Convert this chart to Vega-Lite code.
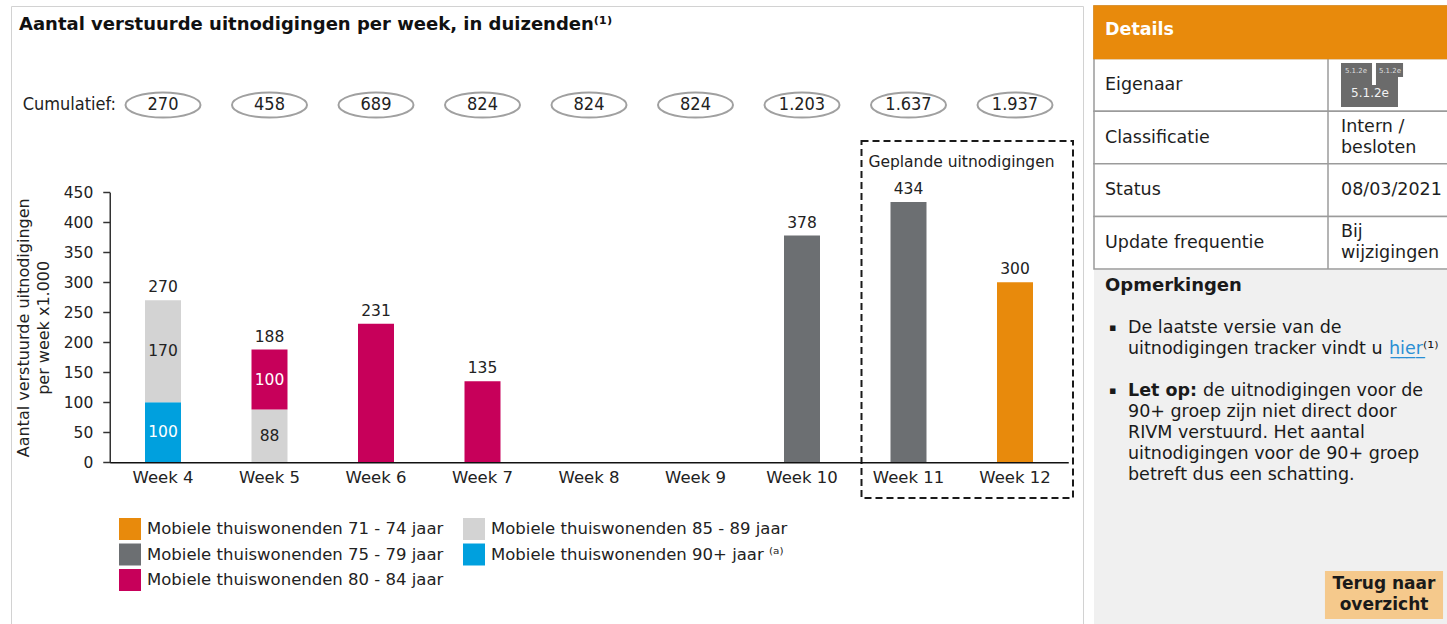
{
  "$schema": "https://vega.github.io/schema/vega-lite/v6.json",
  "background": "white",
  "padding": {"left": 10, "top": 5, "right": 0, "bottom": 0},
  "spacing": 9,
  "config": {
    "font": "DejaVu Sans",
    "view": {"stroke": null},
    "locale": {"number": {"decimal": ",", "thousands": ".", "grouping": [3], "currency": ["€", ""]}}
  },
  "datasets": {
    "weken": [
      {"week": "Week 4", "groep": "Mobiele thuiswonenden 90+ jaar ⁽ᵃ⁾", "aantal": 100},
      {"week": "Week 4", "groep": "Mobiele thuiswonenden 85 - 89 jaar", "aantal": 170},
      {"week": "Week 5", "groep": "Mobiele thuiswonenden 85 - 89 jaar", "aantal": 88},
      {"week": "Week 5", "groep": "Mobiele thuiswonenden 80 - 84 jaar", "aantal": 100},
      {"week": "Week 6", "groep": "Mobiele thuiswonenden 80 - 84 jaar", "aantal": 231},
      {"week": "Week 7", "groep": "Mobiele thuiswonenden 80 - 84 jaar", "aantal": 135},
      {"week": "Week 10", "groep": "Mobiele thuiswonenden 75 - 79 jaar", "aantal": 378},
      {"week": "Week 11", "groep": "Mobiele thuiswonenden 75 - 79 jaar", "aantal": 434},
      {"week": "Week 12", "groep": "Mobiele thuiswonenden 71 - 74 jaar", "aantal": 300}
    ],
    "cumulatief": [
      {"week": "Week 4", "totaal": 270},
      {"week": "Week 5", "totaal": 458},
      {"week": "Week 6", "totaal": 689},
      {"week": "Week 7", "totaal": 824},
      {"week": "Week 8", "totaal": 824},
      {"week": "Week 9", "totaal": 824},
      {"week": "Week 10", "totaal": 1203},
      {"week": "Week 11", "totaal": 1637},
      {"week": "Week 12", "totaal": 1937}
    ],
    "cumlabel": [{"week": "Week 4", "tekst": "Cumulatief:"}],
    "gepland": [{"week": "Week 11", "tot": "Week 12", "tekst": "Geplande uitnodigingen"}],
    "details": [
      {"rij": "Details", "kolom": "label", "tekst": "Details"},
      {"rij": "Eigenaar", "kolom": "label", "tekst": "Eigenaar"},
      {"rij": "Classificatie", "kolom": "label", "tekst": "Classificatie"},
      {"rij": "Classificatie", "kolom": "waarde", "tekst": ["Intern /", "besloten"]},
      {"rij": "Status", "kolom": "label", "tekst": "Status"},
      {"rij": "Status", "kolom": "waarde", "tekst": "08/03/2021"},
      {"rij": "Update frequentie", "kolom": "label", "tekst": "Update frequentie"},
      {"rij": "Update frequentie", "kolom": "waarde", "tekst": ["Bij", "wijzigingen"]}
    ],
    "geheim": [{"rij": "Eigenaar", "kolom": "waarde", "tekst": "5.1.2e"}],
    "opmerkingen": [
      {"regel": 0, "soort": "kop", "kolom": "links", "tekst": "Opmerkingen"},
      {"regel": 2, "soort": "bullet", "kolom": "links", "tekst": "▪"},
      {"regel": 2, "soort": "gewoon", "kolom": "tekst", "tekst": "De laatste versie van de"},
      {"regel": 3, "soort": "gewoon", "kolom": "tekst", "tekst": "uitnodigingen tracker vindt u"},
      {"regel": 3, "soort": "link", "kolom": "tekst", "tekst": "h\u0332i\u0332e\u0332r\u0332"},
      {"regel": 3, "soort": "voetnoot", "kolom": "tekst", "tekst": "⁽¹⁾"},
      {"regel": 5, "soort": "bullet", "kolom": "links", "tekst": "▪"},
      {"regel": 5, "soort": "nadruk", "kolom": "tekst", "tekst": "Let op:"},
      {"regel": 5, "soort": "vervolg", "kolom": "tekst", "tekst": "de uitnodigingen voor de"},
      {"regel": 6, "soort": "gewoon", "kolom": "tekst", "tekst": "90+ groep zijn niet direct door"},
      {"regel": 7, "soort": "gewoon", "kolom": "tekst", "tekst": "RIVM verstuurd. Het aantal"},
      {"regel": 8, "soort": "gewoon", "kolom": "tekst", "tekst": "uitnodigingen voor de 90+ groep"},
      {"regel": 9, "soort": "gewoon", "kolom": "tekst", "tekst": "betreft dus een schatting."},
      {"regel": 15, "soort": "knop", "kolom": "tekst", "tekst": ["Terug naar", "overzicht"]}
    ]
  },
  "hconcat": [
    {
      "width": 1072,
      "height": 620,
      "view": {"stroke": "#d2d2d2", "strokeWidth": 1},
      "title": {
        "text": "Aantal verstuurde uitnodigingen per week, in duizenden⁽¹⁾",
        "anchor": "start", "frame": "group", "offset": -28, "dx": 8,
        "fontSize": 18, "fontWeight": "bold", "color": "#111111"
      },
      "encoding": {
        "x": {
          "field": "week", "type": "nominal", "title": null,
          "scale": {
            "domain": ["Week 4", "Week 5", "Week 6", "Week 7", "Week 8", "Week 9", "Week 10", "Week 11", "Week 12"],
            "range": [98.75, 1057.25], "paddingInner": 0.662, "paddingOuter": 0.331
          },
          "axis": {
            "orient": "bottom", "offset": -163.7, "ticks": false, "labelAngle": 0,
            "domainColor": "#111111", "domainWidth": 1.5, "labelFontSize": 16.5,
            "labelColor": "#222222", "labelPadding": 7, "grid": false
          }
        }
      },
      "layer": [
        {
          "data": {"name": "gepland"},
          "mark": {"type": "rect", "filled": false, "fill": "transparent", "stroke": "#1a1a1a", "strokeWidth": 2, "strokeDash": [7, 4], "xOffset": -29, "x2Offset": 40},
          "encoding": {
            "x": {"field": "week", "type": "nominal", "bandPosition": 0},
            "x2": {"field": "tot", "bandPosition": 1},
            "y": {"datum": 535.5, "type": "quantitative"},
            "y2": {"datum": -59.5}
          }
        },
        {
          "data": {"name": "weken"},
          "mark": {"type": "bar"},
          "encoding": {
            "y": {
              "field": "aantal", "type": "quantitative", "stack": "zero",
              "scale": {"domain": [0, 450], "range": [456.3, 186.3], "nice": false, "zero": true},
              "axis": {
                "values": [0, 50, 100, 150, 200, 250, 300, 350, 400, 450],
                "offset": -98.75, "grid": false, "tickSize": 7, "tickColor": "#333333", "tickWidth": 1.5,
                "domainColor": "#333333", "domainWidth": 1.5, "labelPadding": 10,
                "labelFontSize": 15.5, "labelColor": "#222222",
                "title": ["Aantal verstuurde uitnodigingen", "per week x1.000"],
                "titleFontSize": 16, "titleFontWeight": "normal", "titleColor": "#222222",
                "titleLineHeight": 20, "titlePadding": 12
              }
            },
            "color": {
              "field": "groep", "type": "nominal",
              "scale": {
                "domain": ["Mobiele thuiswonenden 71 - 74 jaar", "Mobiele thuiswonenden 75 - 79 jaar", "Mobiele thuiswonenden 80 - 84 jaar", "Mobiele thuiswonenden 85 - 89 jaar", "Mobiele thuiswonenden 90+ jaar ⁽ᵃ⁾"],
                "range": ["#E88A0C", "#6C6F72", "#C7005A", "#D3D3D3", "#00A0DE"]
              },
              "legend": {
                "orient": "none", "legendX": 108, "legendY": 512, "columns": 2,
                "columnPadding": 19, "rowPadding": 3.5, "symbolType": "square", "symbolSize": 484,
                "symbolStrokeWidth": 0, "labelFontSize": 16.5, "labelColor": "#222222",
                "labelLimit": 600, "labelOffset": 6, "title": null, "padding": 0
              }
            },
            "order": {"field": "groep", "sort": "descending"}
          }
        },
        {
          "data": {"name": "weken"},
          "transform": [{"filter": "datum.week == 'Week 4' || datum.week == 'Week 5'"}],
          "mark": {"type": "text", "fontSize": 15.5, "baseline": "middle"},
          "encoding": {
            "y": {"field": "aantal", "type": "quantitative", "stack": "zero", "bandPosition": 0.5},
            "detail": {"field": "groep", "type": "nominal"},
            "order": {"field": "groep", "sort": "descending"},
            "text": {"field": "aantal", "type": "quantitative"},
            "color": {"condition": {"test": "datum.groep == 'Mobiele thuiswonenden 85 - 89 jaar'", "value": "#222222"}, "value": "#ffffff"}
          }
        },
        {
          "data": {"name": "weken"},
          "mark": {"type": "text", "fontSize": 15.5, "baseline": "alphabetic", "dy": -8, "color": "#222222"},
          "encoding": {
            "y": {"aggregate": "sum", "field": "aantal", "type": "quantitative"},
            "text": {"aggregate": "sum", "field": "aantal", "type": "quantitative"}
          }
        },
        {
          "data": {"name": "cumulatief"},
          "mark": {"type": "point", "shape": "M-3,0A3,1,0,1,1,3,0A3,1,0,1,1,-3,0Z", "size": 625, "filled": true, "fill": "#ffffff", "stroke": "#a0a0a0", "strokeWidth": 2, "opacity": 1},
          "encoding": {"y": {"datum": 595.5, "type": "quantitative"}}
        },
        {
          "data": {"name": "cumulatief"},
          "mark": {"type": "text", "fontSize": 18, "font": "Liberation Sans Narrow, DejaVu Sans Condensed, Liberation Sans", "baseline": "middle", "color": "#222222"},
          "encoding": {
            "y": {"datum": 595.5, "type": "quantitative"},
            "text": {"field": "totaal", "type": "quantitative", "format": ",d"}
          }
        },
        {
          "data": {"name": "cumlabel"},
          "mark": {"type": "text", "fontSize": 18, "font": "Liberation Sans Narrow, DejaVu Sans Condensed, Liberation Sans", "align": "right", "baseline": "middle", "dx": -29, "color": "#222222"},
          "encoding": {
            "x": {"field": "week", "type": "nominal", "bandPosition": 0},
            "y": {"datum": 595.5, "type": "quantitative"},
            "text": {"field": "tekst", "type": "nominal"}
          }
        },
        {
          "data": {"name": "gepland"},
          "mark": {"type": "text", "fontSize": 15.5, "baseline": "middle", "dx": 53, "color": "#222222"},
          "encoding": {
            "y": {"datum": 500.5, "type": "quantitative"},
            "text": {"field": "tekst", "type": "nominal"}
          }
        }
      ]
    },
    {
      "spacing": 0,
      "vconcat": [
        {
          "width": 356,
          "height": 263,
          "data": {"name": "details"},
          "layer": [
            {
              "transform": [{"filter": "datum.kolom == 'label'"}],
              "mark": {"type": "rect", "fill": "#ffffff", "stroke": "#9b9b9b", "strokeWidth": 1.5},
              "encoding": {
                "y": {"field": "rij", "type": "nominal", "axis": null,
                  "scale": {"domain": ["Details", "Eigenaar", "Classificatie", "Status", "Update frequentie"], "paddingInner": 0, "paddingOuter": 0}}
              }
            },
            {
              "transform": [{"filter": "datum.rij == 'Status' && datum.kolom == 'waarde'"}],
              "mark": {"type": "rule", "stroke": "#9b9b9b", "strokeWidth": 1.5, "xOffset": -13},
              "encoding": {
                "x": {"field": "kolom", "type": "nominal", "axis": null,
                  "scale": {"type": "point", "domain": ["label", "waarde"], "range": [11, 247], "padding": 0}}
              }
            },
            {
              "transform": [{"filter": "datum.rij == 'Details' && datum.kolom == 'label'"}],
              "mark": {"type": "rect", "fill": "#E88A0C", "stroke": "#E88A0C", "strokeWidth": 1.5},
              "encoding": {"y": {"field": "rij", "type": "nominal"}}
            },
            {
              "transform": [{"filter": "datum.rij == 'Details'"}],
              "mark": {"type": "text", "align": "left", "baseline": "middle", "fontSize": 17.5, "fontWeight": "bold", "dy": -2, "color": "#ffffff"},
              "encoding": {
                "x": {"field": "kolom", "type": "nominal"},
                "y": {"field": "rij", "type": "nominal"},
                "text": {"field": "tekst", "type": "nominal"}
              }
            },
            {
              "transform": [{"filter": "datum.rij != 'Details' && !isArray(datum.tekst)"}],
              "mark": {"type": "text", "align": "left", "baseline": "middle", "fontSize": 17.5, "color": "#1e1e1e"},
              "encoding": {
                "x": {"field": "kolom", "type": "nominal"},
                "y": {"field": "rij", "type": "nominal"},
                "text": {"field": "tekst", "type": "nominal"}
              }
            },
            {
              "transform": [{"filter": "isArray(datum.tekst)"}],
              "mark": {"type": "text", "align": "left", "baseline": "middle", "fontSize": 17.5, "lineHeight": 21, "dy": -10.5, "color": "#1e1e1e"},
              "encoding": {
                "x": {"field": "kolom", "type": "nominal"},
                "y": {"field": "rij", "type": "nominal"},
                "text": {"field": "tekst", "type": "nominal"}
              }
            },
            {
              "data": {"name": "geheim"},
              "mark": {"type": "point", "shape": "M0,-1H1.41V0H1.59V-1H2.82V-0.36H2.59V1H0Z", "size": 1936, "filled": true, "fill": "#6b6b6b", "strokeWidth": 0, "opacity": 1},
              "encoding": {
                "x": {"field": "kolom", "type": "nominal"},
                "y": {"field": "rij", "type": "nominal"}
              }
            },
            {
              "data": {"name": "geheim"},
              "mark": {"type": "text", "align": "center", "baseline": "middle", "fontSize": 12, "dx": 29, "dy": 8, "color": "#f2f2f2"},
              "encoding": {
                "x": {"field": "kolom", "type": "nominal"},
                "y": {"field": "rij", "type": "nominal"},
                "text": {"field": "tekst", "type": "nominal"}
              }
            },
            {
              "data": {"name": "geheim"},
              "mark": {"type": "text", "align": "center", "baseline": "middle", "fontSize": 7, "dx": 15, "dy": -14, "color": "#dddddd"},
              "encoding": {
                "x": {"field": "kolom", "type": "nominal"},
                "y": {"field": "rij", "type": "nominal"},
                "text": {"field": "tekst", "type": "nominal"}
              }
            },
            {
              "data": {"name": "geheim"},
              "mark": {"type": "text", "align": "center", "baseline": "middle", "fontSize": 7, "dx": 49, "dy": -14, "color": "#dddddd"},
              "encoding": {
                "x": {"field": "kolom", "type": "nominal"},
                "y": {"field": "rij", "type": "nominal"},
                "text": {"field": "tekst", "type": "nominal"}
              }
            }
          ]
        },
        {
          "width": 356,
          "height": 357,
          "view": {"fill": "#f0f0f0", "stroke": null},
          "data": {"name": "opmerkingen"},
          "layer": [
            {
              "transform": [{"filter": "datum.soort == 'knop'"}],
              "mark": {"type": "point", "shape": "M-2.46,-1H2.46V1H-2.46Z", "size": 2304, "filled": true, "fill": "#F5C98C", "strokeWidth": 0, "opacity": 1, "xOffset": 256, "yOffset": -6},
              "encoding": {
                "x": {"field": "kolom", "type": "nominal", "axis": null,
                  "scale": {"type": "point", "domain": ["links", "tekst"], "range": [13, 34], "padding": 0}},
                "y": {"field": "regel", "type": "ordinal", "axis": null,
                  "scale": {"type": "point", "domain": [0, 1, 2, 3, 4, 5, 6, 7, 8, 9, 10, 11, 12, 13, 14, 15], "range": [16, 331], "padding": 0}}
              }
            },
            {
              "transform": [{"filter": "datum.soort == 'knop'"}],
              "mark": {"type": "text", "align": "center", "baseline": "middle", "fontSize": 17, "fontWeight": "bold", "lineHeight": 21, "dx": 256, "dy": -17, "color": "#1a1a1a"},
              "encoding": {
                "x": {"field": "kolom", "type": "nominal"},
                "y": {"field": "regel", "type": "ordinal"},
                "text": {"field": "tekst", "type": "nominal"}
              }
            },
            {
              "transform": [{"filter": "datum.soort == 'kop'"}],
              "mark": {"type": "text", "align": "left", "baseline": "middle", "fontSize": 18, "fontWeight": "bold", "dx": -2, "color": "#1a1a1a"},
              "encoding": {
                "x": {"field": "kolom", "type": "nominal"},
                "y": {"field": "regel", "type": "ordinal"},
                "text": {"field": "tekst", "type": "nominal"}
              }
            },
            {
              "transform": [{"filter": "datum.soort == 'bullet'"}],
              "mark": {"type": "text", "align": "left", "baseline": "middle", "fontSize": 11, "dx": 2, "color": "#1a1a1a"},
              "encoding": {
                "x": {"field": "kolom", "type": "nominal"},
                "y": {"field": "regel", "type": "ordinal"},
                "text": {"field": "tekst", "type": "nominal"}
              }
            },
            {
              "transform": [{"filter": "datum.soort == 'gewoon'"}],
              "mark": {"type": "text", "align": "left", "baseline": "middle", "fontSize": 17.5, "color": "#1a1a1a"},
              "encoding": {
                "x": {"field": "kolom", "type": "nominal"},
                "y": {"field": "regel", "type": "ordinal"},
                "text": {"field": "tekst", "type": "nominal"}
              }
            },
            {
              "transform": [{"filter": "datum.soort == 'nadruk'"}],
              "mark": {"type": "text", "align": "left", "baseline": "middle", "fontSize": 17.5, "fontWeight": "bold", "color": "#1a1a1a"},
              "encoding": {
                "x": {"field": "kolom", "type": "nominal"},
                "y": {"field": "regel", "type": "ordinal"},
                "text": {"field": "tekst", "type": "nominal"}
              }
            },
            {
              "transform": [{"filter": "datum.soort == 'vervolg'"}],
              "mark": {"type": "text", "align": "left", "baseline": "middle", "fontSize": 17.5, "dx": 75, "color": "#1a1a1a"},
              "encoding": {
                "x": {"field": "kolom", "type": "nominal"},
                "y": {"field": "regel", "type": "ordinal"},
                "text": {"field": "tekst", "type": "nominal"}
              }
            },
            {
              "transform": [{"filter": "datum.soort == 'link'"}],
              "mark": {"type": "text", "align": "left", "baseline": "middle", "fontSize": 17.5, "dx": 261, "color": "#2a8fd4"},
              "encoding": {
                "x": {"field": "kolom", "type": "nominal"},
                "y": {"field": "regel", "type": "ordinal"},
                "text": {"field": "tekst", "type": "nominal"}
              }
            },
            {
              "transform": [{"filter": "datum.soort == 'voetnoot'"}],
              "mark": {"type": "text", "align": "left", "baseline": "middle", "fontSize": 17.5, "dx": 295, "color": "#1a1a1a"},
              "encoding": {
                "x": {"field": "kolom", "type": "nominal"},
                "y": {"field": "regel", "type": "ordinal"},
                "text": {"field": "tekst", "type": "nominal"}
              }
            }
          ]
        }
      ]
    }
  ]
}
